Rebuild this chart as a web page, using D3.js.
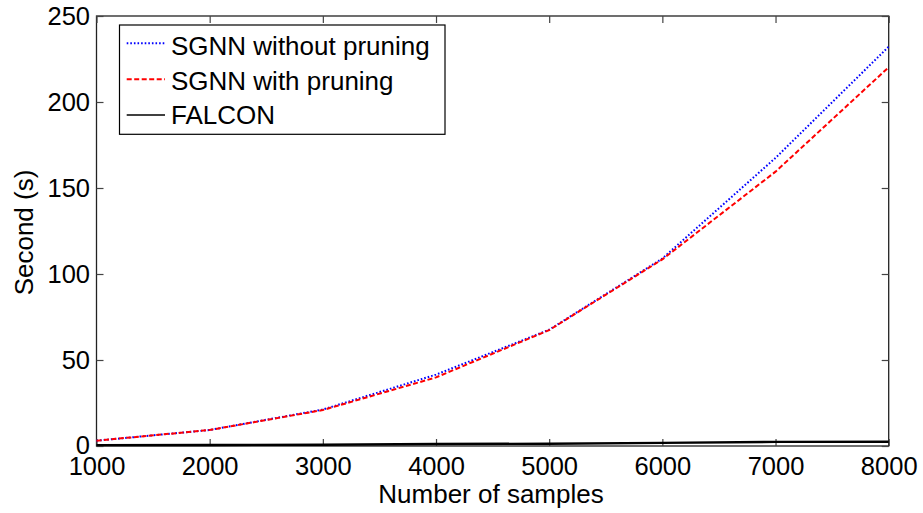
<!DOCTYPE html>
<html>
<head>
<meta charset="utf-8">
<script src="https://cdn.jsdelivr.net/npm/d3@7"></script>
<style>
  html, body { margin: 0; padding: 0; background: #fff; }
  svg text { font-family: "Liberation Sans", Arial, sans-serif; fill: #000; }
</style>
</head>
<body>
<svg id="chart" width="923" height="513"></svg>
<script>
const samples = [1000, 2000, 3000, 4000, 5000, 6000, 7000, 8000];
const withoutPruning = [3.1, 9.3, 21.2, 41.5, 67.6, 109, 167.5, 232.2];
const withPruning = [3.1, 9.3, 20.9, 39.9, 67.4, 108.5, 159.5, 220.2];
const falcon = [0.5, 0.6, 0.7, 1.2, 1.3, 1.8, 2.4, 2.5];
const xTicks = [1000, 2000, 3000, 4000, 5000, 6000, 7000, 8000];
const yTicks = [0, 50, 100, 150, 200, 250];
const seriesNames = ["SGNN without pruning", "SGNN with pruning", "FALCON"];

const svg = d3.select("#chart");
const L = 96.5, R = 888.7, T = 16, B = 446;
const x = d3.scaleLinear().domain([1000, 8000]).range([L, R]);
const y = d3.scaleLinear().domain([0, 250]).range([B, T]);
const fs = 26;
const tfs = 25.5;
const tickLen = 7;

// box
svg.append("rect").attr("x", L).attr("y", T).attr("width", R - L).attr("height", B - T)
  .attr("fill", "none").attr("stroke", "#222").attr("stroke-width", 1.3);

// axes with inward ticks
const xAxisB = svg.append("g").attr("transform", `translate(0,${B})`)
  .call(d3.axisBottom(x).tickValues(xTicks).tickSizeInner(-tickLen).tickSizeOuter(0).tickPadding(10).tickFormat(d3.format("d")));
const xAxisT = svg.append("g").attr("transform", `translate(0,${T})`)
  .call(d3.axisTop(x).tickValues(xTicks).tickSizeInner(-tickLen).tickSizeOuter(0).tickFormat(""));
const yAxisL = svg.append("g").attr("transform", `translate(${L},0)`)
  .call(d3.axisLeft(y).tickValues(yTicks).tickSizeInner(-tickLen).tickSizeOuter(0).tickPadding(6).tickFormat(d3.format("d")));
const yAxisR = svg.append("g").attr("transform", `translate(${R},0)`)
  .call(d3.axisRight(y).tickValues(yTicks).tickSizeInner(-tickLen).tickSizeOuter(0).tickFormat(""));
[xAxisB, xAxisT, yAxisL, yAxisR].forEach(g => {
  g.select(".domain").remove();
  g.selectAll(".tick line").attr("stroke", "#444").attr("stroke-width", 1.2);
  g.selectAll(".tick text").style("font-size", tfs + "px").attr("font-family", "Liberation Sans, Arial, sans-serif").attr("fill", "#000");
});
xAxisB.selectAll(".tick text").attr("dy", null).attr("y", 29);
yAxisL.selectAll(".tick text").attr("dy", "0.35em").attr("x", -6.5);
yAxisL.selectAll(".tick").filter(d => d === 0).select("text").attr("dy", "0.28em");

// axis labels
svg.append("text").attr("x", 491).attr("y", 503).attr("text-anchor", "middle")
  .style("font-size", fs + "px").text("Number of samples");
svg.append("text").attr("transform", `translate(33,232.5) rotate(-90)`).attr("text-anchor", "middle")
  .style("font-size", fs + "px").text("Second (s)");

// lines
const line = d3.line().x((d, i) => x(samples[i])).y(d => y(d));
const styles = [
  { data: withoutPruning, color: "#0000ff", dash: "1.6,2", width: 2 },
  { data: withPruning, color: "#ff0000", dash: "5,2.5", width: 2 },
  { data: falcon, color: "#000000", dash: null, width: 2.4 }
];
[styles[2], styles[0], styles[1]].forEach(s => {
  svg.append("path").datum(s.data).attr("d", line)
    .attr("fill", "none").attr("stroke", s.color).attr("stroke-width", s.width)
    .attr("stroke-dasharray", s.dash);
});

// legend
const lg = svg.append("g");
lg.append("rect").attr("x", 119.5).attr("y", 25).attr("width", 325.5).attr("height", 109.3)
  .attr("fill", "#fff").attr("stroke", "#000").attr("stroke-width", 1.2);
const lineYs = [43.3, 79.3, 115];
const textYs = [55, 89.5, 124];
styles.forEach((s, i) => {
  lg.append("line").attr("x1", 126.7).attr("x2", 165).attr("y1", lineYs[i]).attr("y2", lineYs[i])
    .attr("stroke", s.color).attr("stroke-width", s.dash ? 2 : 1.6).attr("stroke-dasharray", s.dash);
  lg.append("text").attr("x", 171).attr("y", textYs[i]).style("font-size", fs + "px").text(seriesNames[i]);
});
</script>
</body>
</html>
